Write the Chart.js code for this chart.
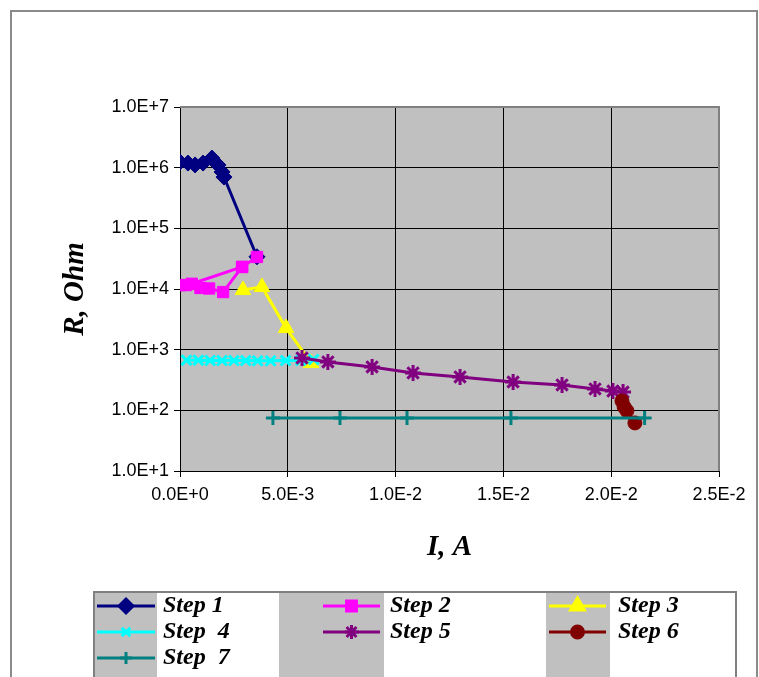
<!DOCTYPE html>
<html lang="en">
<head>
<meta charset="UTF-8">
<title>R vs I</title>
<script src="https://cdn.jsdelivr.net/npm/chart.js"></script>
<style>
  body { margin: 0; background: #fff; }
  .frame {
    position: absolute; left: 10px; top: 10px;
    width: 748px; height: 700px;
    border: 2px solid #8a8a8a; box-sizing: border-box;
  }
  #chart { position: absolute; left: 0; top: 0; }
</style>
</head>
<body>
<div class="frame"></div>
<canvas id="chart" width="759" height="677"></canvas>
<script>
// current I (A) and resistance R (Ohm) for each step
const step1I = [0, 3.7e-4, 7.0e-4, 1.07e-3, 1.48e-3, 1.76e-3, 1.95e-3, 2.04e-3, 3.57e-3];
const step1R = [1.24e6, 1.19e6, 1.11e6, 1.19e6, 1.44e6, 1.11e6, 8.5e5, 7.0e5, 3.4e4];

const step2I = [3.57e-3, 2.88e-3, 5.5e-4, 0, 2.8e-4, 9.5e-4, 1.35e-3, 2.0e-3, 2.88e-3];
const step2R = [3.37e4, 2.31e4, 1.22e4, 1.16e4, 1.16e4, 1.04e4, 1.02e4, 8.9e3, 2.31e4];

const step3I = [2.92e-3, 3.80e-3, 4.92e-3, 6.08e-3];
const step3R = [9.6e3, 1.08e4, 2.27e3, 603];

const step4I = [3.0e-4, 8.5e-4, 1.4e-3, 1.95e-3, 2.5e-3, 3.05e-3, 3.6e-3, 4.2e-3, 4.9e-3, 5.6e-3, 6.2e-3];
const step4R = [670, 670, 665, 660, 660, 660, 655, 655, 660, 665, 690];

const step5I = [5.66e-3, 6.86e-3, 8.91e-3, 1.081e-2, 1.299e-2, 1.545e-2, 1.772e-2, 1.925e-2, 2.008e-2, 2.055e-2];
const step5R = [730, 627, 519, 413, 355, 293, 262, 225, 208, 200];

const step6I = [2.05e-2, 2.06e-2, 2.073e-2, 2.11e-2];
const step6R = [143, 114, 98, 62];

const step7I = [4.31e-3, 7.42e-3, 1.053e-2, 1.535e-2, 2.155e-2];
const step7R = [75, 75, 75, 75, 75];

const stepLabels = ['Step 1', 'Step 2', 'Step 3', 'Step  4', 'Step 5', 'Step 6', 'Step  7'];

// axis ticks
const xTicks = [0, 0.005, 0.01, 0.015, 0.02, 0.025];
const xTickLabels = ['0.0E+0', '5.0E-3', '1.0E-2', '1.5E-2', '2.0E-2', '2.5E-2'];
const yTicks = [1e1, 1e2, 1e3, 1e4, 1e5, 1e6, 1e7];
const yTickLabels = ['1.0E+1', '1.0E+2', '1.0E+3', '1.0E+4', '1.0E+5', '1.0E+6', '1.0E+7'];

const toPoints = (xs, ys) => xs.map((x, i) => ({ x: x, y: ys[i] }));

const series = [
  { I: step1I, R: step1R, color: '#000080', style: 'rectRot', radius: 8, bw: 1 },
  { I: step2I, R: step2R, color: '#ff00ff', style: 'rect', radius: 8, bw: 1 },
  { I: step3I, R: step3R, color: '#ffff00', style: 'triangle', radius: 9, bw: 1 },
  { I: step4I, R: step4R, color: '#00ffff', style: 'crossRot', radius: 7, bw: 3 },
  { I: step5I, R: step5R, color: '#800080', style: 'star', radius: 8, bw: 3 },
  { I: step6I, R: step6R, color: '#800000', style: 'circle', radius: 7, bw: 1 },
  { I: step7I, R: step7R, color: '#008080', style: 'cross', radius: 7, bw: 3 }
];

const datasets = series.map((s, i) => ({
  label: stepLabels[i],
  data: toPoints(s.I, s.R),
  showLine: true,
  borderColor: s.color,
  backgroundColor: s.color,
  borderWidth: 3,
  pointStyle: s.style,
  pointRadius: s.radius,
  pointBorderWidth: s.bw,
  pointBackgroundColor: s.color,
  pointBorderColor: s.color,
  order: series.length - i
}));

Chart.defaults.font.family = '"Liberation Sans", Arial, sans-serif';
Chart.defaults.color = '#000';

// grey plot background and the grey frame on its top/right edges
const plotFrame = {
  id: 'plotFrame',
  beforeDraw(chart) {
    const { ctx, chartArea: a } = chart;
    ctx.save();
    ctx.fillStyle = '#c0c0c0';
    ctx.fillRect(a.left, a.top, a.right - a.left, a.bottom - a.top);
    ctx.restore();
  },
  beforeDatasetsDraw(chart) {
    const { ctx, chartArea: a } = chart;
    ctx.save();
    ctx.strokeStyle = '#808080';
    ctx.lineWidth = 2;
    ctx.beginPath();
    ctx.moveTo(a.left, a.top);
    ctx.lineTo(a.right, a.top);
    ctx.lineTo(a.right, a.bottom);
    ctx.stroke();
    ctx.restore();
  }
};

// boxed legend: three columns, grey bands behind the line samples
const legendCols = [[97, 155, 163], [323, 380, 390], [549, 606, 618]];
const legendBands = [[94, 157], [279, 384], [546, 610]];
const legendRows = [606, 632, 658];
const boxLegend = {
  id: 'boxLegend',
  afterDraw(chart) {
    const ctx = chart.ctx;
    const top = 592, left = 94, right = 736, bottom = 700;
    ctx.save();
    ctx.fillStyle = '#fff';
    ctx.fillRect(left, top, right - left, bottom - top);
    ctx.fillStyle = '#c0c0c0';
    legendBands.forEach(b => ctx.fillRect(b[0], top, b[1] - b[0], bottom - top));
    ctx.strokeStyle = '#808080';
    ctx.lineWidth = 2;
    ctx.strokeRect(left, top, right - left, bottom - top);

    chart.data.datasets.forEach((ds, i) => {
      const col = legendCols[i % 3];
      const y = legendRows[Math.floor(i / 3)];
      ctx.strokeStyle = ds.borderColor;
      ctx.lineWidth = 3;
      ctx.beginPath();
      ctx.moveTo(col[0], y);
      ctx.lineTo(col[1], y);
      ctx.stroke();
      ctx.fillStyle = ds.pointBackgroundColor;
      Chart.helpers.drawPoint(ctx, {
        pointStyle: ds.pointStyle, radius: ds.pointRadius - 1,
        rotation: 0, borderWidth: ds.pointBorderWidth
      }, (col[0] + col[1]) / 2, y);
      ctx.fillStyle = '#000';
      ctx.font = 'italic bold 24px "Liberation Serif", serif';
      ctx.textBaseline = 'middle';
      ctx.fillText(ds.label, col[2], y);
    });
    ctx.restore();
  }
};

new Chart(document.getElementById('chart'), {
  type: 'scatter',
  data: { datasets: datasets },
  plugins: [plotFrame, boxLegend],
  options: {
    responsive: false,
    animation: false,
    layout: { padding: { left: 0, top: 107, right: 40, bottom: 106 } },
    plugins: { legend: { display: false }, tooltip: { enabled: false } },
    scales: {
      x: {
        type: 'linear',
        min: 0,
        max: 0.025,
        afterBuildTicks: s => { s.ticks = xTicks.map(v => ({ value: v })); },
        afterFit: s => { s.height = 100; },
        ticks: {
          callback: (v, i) => xTickLabels[i],
          font: { size: 18 },
          padding: 7,
          maxRotation: 0,
          autoSkip: false
        },
        grid: { color: '#000', lineWidth: 1, tickLength: 6 },
        border: { color: '#000', width: 1 },
        title: {
          display: true,
          text: 'I, A',
          font: { family: '"Liberation Serif", serif', size: 29, style: 'italic', weight: 'bold' },
          padding: { top: 0, bottom: 6 }
        }
      },
      y: {
        type: 'logarithmic',
        min: 10,
        max: 1e7,
        afterBuildTicks: s => { s.ticks = yTicks.map(v => ({ value: v })); },
        afterFit: s => { s.width = 180; },
        ticks: {
          callback: (v, i) => yTickLabels[i],
          font: { size: 18 },
          padding: 5,
          autoSkip: false
        },
        grid: { color: '#000', lineWidth: 1, tickLength: 6 },
        border: { color: '#000', width: 1 },
        title: {
          display: true,
          text: 'R, Ohm',
          font: { family: '"Liberation Serif", serif', size: 29, style: 'italic', weight: 'bold' },
          padding: { top: 58, bottom: 0 }
        }
      }
    }
  }
});
</script>
</body>
</html>
